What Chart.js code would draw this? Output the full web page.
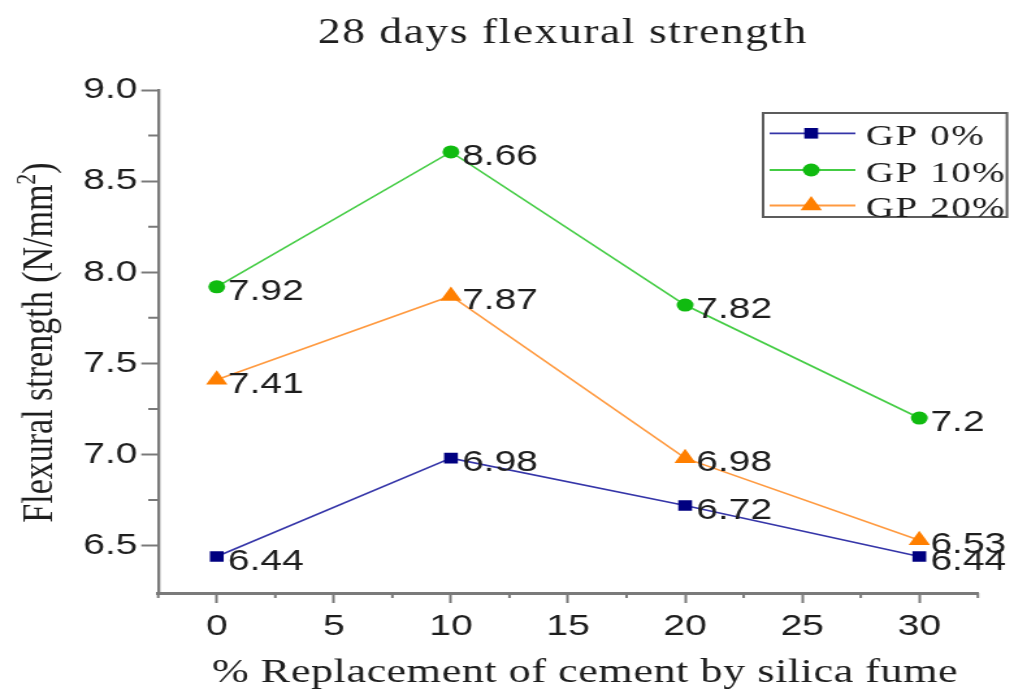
<!DOCTYPE html>
<html>
<head>
<meta charset="utf-8">
<script src="https://cdn.jsdelivr.net/npm/chart.js@4.4.1/dist/chart.umd.min.js"></script>
<style>
  html, body { margin: 0; padding: 0; background: #fff; overflow: hidden; }
  /* the drawing is laid out narrow and widened horizontally */
  #wrap { width: 777px; height: 690px; transform: scaleX(1.3); transform-origin: 0 0; }
  canvas { display: block; }
</style>
</head>
<body>
<div id="wrap"><canvas id="c" width="777" height="690"></canvas></div>
<script>
// % replacement of cement by silica fume
const replacement = [0, 10, 20, 30];
// 28-day flexural strength (N/mm²) per GP content
const gp0 = [6.44, 6.98, 6.72, 6.44];
const gp10 = [7.92, 8.66, 7.82, 7.2];
const gp20 = [7.41, 7.87, 6.98, 6.53];
const seriesNames = ['GP 0%', 'GP 10%', 'GP 20%'];

const xTicks = [0, 5, 10, 15, 20, 25, 30];
const xMinorTicks = [-2.5, 2.5, 7.5, 12.5, 17.5, 22.5, 27.5, 32.5];
const yTicks = [6.5, 7.0, 7.5, 8.0, 8.5, 9.0];
const yMinorTicks = [6.75, 7.25, 7.75, 8.25, 8.75];

const chartTitle = '28 days flexural strength';
const xTitle = '% Replacement of cement by silica fume';
const yTitleMain = 'Flexural strength (N/mm';
const yTitleSup = '2';
const yTitleEnd = ')';

const axisColor = '#7a7a7a';
const textColor = '#1e1e1e';
const styles = [
  { line: '#3535a8', mark: '#000080', shape: 'rect', r: 7.5 },
  { line: '#44cc44', mark: '#10bb10', shape: 'circle', r: 6.5 },
  { line: '#ff9a40', mark: '#ff7f00', shape: 'triangle', r: 9.5 }
];
const seriesValues = [gp0, gp10, gp20];

const decor = {
  id: 'decor',
  afterDatasetsDraw(chart) {
    const ctx = chart.ctx;
    ctx.save();
    ctx.font = '30px "Liberation Sans"';
    ctx.fillStyle = textColor;
    ctx.textAlign = 'left';
    ctx.textBaseline = 'alphabetic';
    seriesValues.forEach((vals, i) => {
      const meta = chart.getDatasetMeta(i);
      meta.data.forEach((pt, j) => {
        ctx.fillText(String(vals[j]), pt.x + 8.5, pt.y + 13);
      });
    });
    ctx.restore();
  },
  afterDraw(chart) {
    const ctx = chart.ctx;
    const xs = chart.scales.x, ys = chart.scales.y;
    const area = chart.chartArea;

    // minor ticks
    ctx.save();
    ctx.strokeStyle = axisColor;
    ctx.lineWidth = 2;
    ctx.beginPath();
    xMinorTicks.forEach(v => {
      const px = xs.getPixelForValue(v);
      ctx.moveTo(px, area.bottom);
      ctx.lineTo(px, area.bottom + 5);
    });
    yMinorTicks.forEach(v => {
      const py = ys.getPixelForValue(v);
      ctx.moveTo(area.left, py);
      ctx.lineTo(area.left - 7.7, py);
    });
    ctx.stroke();
    ctx.restore();

    // chart title
    ctx.save();
    ctx.fillStyle = textColor;
    ctx.font = '35px "Liberation Serif"';
    ctx.letterSpacing = '1.2px';
    ctx.textAlign = 'center';
    ctx.textBaseline = 'alphabetic';
    ctx.fillText(chartTitle, 433, 43);

    // x axis title
    ctx.font = '34px "Liberation Serif"';
    ctx.letterSpacing = '0.4px';
    ctx.fillText(xTitle, 450, 682);
    ctx.restore();

    // y axis title with superscript
    ctx.save();
    ctx.fillStyle = textColor;
    ctx.translate(40, 342.5);
    ctx.rotate(-Math.PI / 2);
    ctx.textBaseline = 'alphabetic';
    ctx.textAlign = 'left';
    const mainFont = '34px "Liberation Serif"';
    const supFont = '22px "Liberation Serif"';
    ctx.font = mainFont;
    const w1 = ctx.measureText(yTitleMain).width;
    const w3 = ctx.measureText(yTitleEnd).width;
    ctx.font = supFont;
    const w2 = ctx.measureText(yTitleSup).width;
    let x0 = -(w1 + w2 + w3) / 2;
    ctx.font = mainFont;
    ctx.fillText(yTitleMain, x0, 0);
    ctx.font = supFont;
    ctx.fillText(yTitleSup, x0 + w1, -13);
    ctx.font = mainFont;
    ctx.fillText(yTitleEnd, x0 + w1 + w2, 0);
    ctx.restore();

    // legend box
    ctx.save();
    const bx = 587, by = 113, bw = 187.6, bh = 104;
    ctx.fillStyle = '#fff';
    ctx.fillRect(bx, by, bw, bh);
    ctx.strokeStyle = '#5c5c5c';
    ctx.lineWidth = 2;
    ctx.strokeRect(bx, by, bw, bh);
    const rows = [133.3, 170, 205.5];
    seriesNames.forEach((name, i) => {
      const st = styles[i];
      const y = rows[i];
      ctx.strokeStyle = st.line;
      ctx.lineWidth = 1.8;
      ctx.beginPath();
      ctx.moveTo(592, y);
      ctx.lineTo(658, y);
      ctx.stroke();
      ctx.fillStyle = st.mark;
      ctx.strokeStyle = st.mark;
      Chart.helpers.drawPoint(ctx, { pointStyle: st.shape, radius: st.r, borderWidth: 0, rotation: 0 }, 624, y);
      ctx.fillStyle = textColor;
      ctx.font = '30px "Liberation Serif"';
      ctx.letterSpacing = '1.2px';
      ctx.textAlign = 'left';
      ctx.textBaseline = 'alphabetic';
      ctx.fillText(name, 666, y + 11.5);
      ctx.letterSpacing = '0px';
    });
    ctx.restore();
  }
};

const datasets = seriesValues.map((vals, i) => ({
  label: seriesNames[i],
  data: replacement.map((x, j) => ({ x: x, y: vals[j] })),
  borderColor: styles[i].line,
  backgroundColor: styles[i].mark,
  borderWidth: 1.6,
  tension: 0,
  pointStyle: styles[i].shape,
  pointRadius: styles[i].r,
  pointBackgroundColor: styles[i].mark,
  pointBorderColor: styles[i].mark,
  pointBorderWidth: 0,
  order: 3 - i
}));

new Chart(document.getElementById('c'), {
  type: 'line',
  data: { datasets },
  options: {
    responsive: false,
    animation: false,
    events: [],
    layout: { padding: { top: 90, right: 24.8, bottom: 0, left: 0 } },
    plugins: {
      legend: { display: false },
      title: { display: false },
      tooltip: { enabled: false }
    },
    scales: {
      x: {
        type: 'linear',
        min: -2.5,
        max: 32.5,
        afterBuildTicks: s => { s.ticks = xTicks.map(v => ({ value: v })); },
        afterFit: s => { s.height = 97; },
        grid: { display: true, drawOnChartArea: false, drawTicks: true, tickLength: 10, tickColor: axisColor, tickWidth: 2 },
        border: { display: true, color: axisColor, width: 3 },
        ticks: {
          font: { family: 'Liberation Sans', size: 30 },
          color: textColor,
          padding: 6,
          maxRotation: 0,
          autoSkip: false,
          callback: v => String(v)
        }
      },
      y: {
        type: 'linear',
        min: 6.24,
        max: 9.0,
        afterBuildTicks: s => { s.ticks = yTicks.map(v => ({ value: v })); },
        afterFit: s => { s.width = 121.7; },
        grid: { display: true, drawOnChartArea: false, drawTicks: true, tickLength: 13, tickColor: axisColor, tickWidth: 2 },
        border: { display: true, color: axisColor, width: 2.3 },
        ticks: {
          font: { family: 'Liberation Sans', size: 30 },
          color: textColor,
          padding: 3,
          autoSkip: false,
          callback: v => v.toFixed(1)
        }
      }
    }
  },
  plugins: [decor]
});
</script>
</body>
</html>
